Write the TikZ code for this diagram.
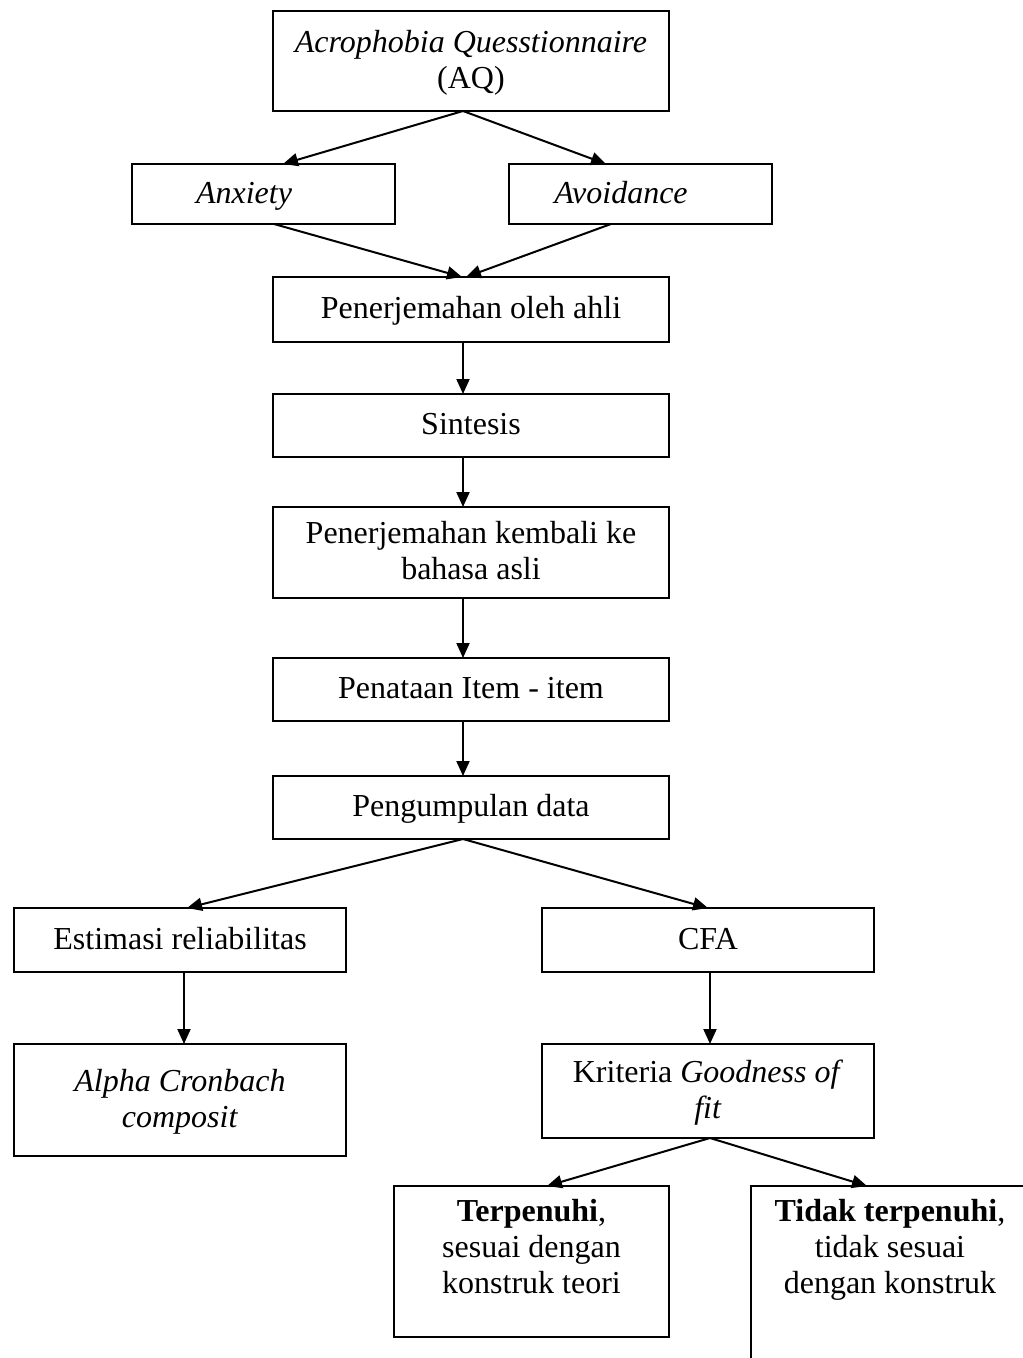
\documentclass[tikz,border=0pt]{standalone}
\usepackage{fontspec}
\setmainfont{Liberation Serif}
\usetikzlibrary{arrows.meta}
\newcommand{\bxt}[4][c]{\parbox[c][#3][#1]{#2}{\centering #4}}
\newcommand{\stt}{\rule[-9pt]{0pt}{36pt}}
\begin{document}
\begin{tikzpicture}[x=1pt,y=-1pt,font=\fontsize{32}{36}\selectfont,
  box/.style={draw,line width=1.3pt,inner sep=0pt,outer sep=0pt,anchor=north west},
  arr/.style={line width=2pt,-{Triangle[length=15pt,width=13pt]}}]
\useasboundingbox (0,0) rectangle (1023,1358);
\fill[white] (0,0) rectangle (1023,1358);
\node[box] (aq) at (273,11) {\bxt{396pt}{100pt}{\stt\textit{Acrophobia Quesstionnaire}\\\stt(AQ)}};
\node[box] (anx) at (132,164) {\bxt{263pt}{60pt}{\stt\textit{Anxiety}\hspace*{39pt}}};
\node[box] (avo) at (509,164) {\bxt{263pt}{60pt}{\stt\textit{Avoidance}\hspace*{39pt}}};
\node[box] (ahli) at (273,277) {\bxt{396pt}{65pt}{\stt Penerjemahan oleh ahli}};
\node[box] (sin) at (273,394) {\bxt{396pt}{63pt}{\stt Sintesis}};
\node[box] (kem) at (273,507) {\bxt{396pt}{91pt}{\stt Penerjemahan kembali ke\\\stt bahasa asli}};
\node[box] (pen) at (273,658) {\bxt{396pt}{63pt}{\stt Penataan Item - item}};
\node[box] (pkd) at (273,776) {\bxt{396pt}{63pt}{\stt Pengumpulan data}};
\node[box] (est) at (14,908) {\bxt{332pt}{64pt}{\stt Estimasi reliabilitas}};
\node[box] (cfa) at (542,908) {\bxt{332pt}{64pt}{\stt CFA}};
\node[box] (alp) at (14,1044) {\bxt{332pt}{112pt}{\stt\textit{Alpha Cronbach}\\\stt\textit{composit}}};
\node[box] (kri) at (542,1044) {\bxt{332pt}{94pt}{\stt Kriteria \textit{Goodness of}\\\stt\textit{fit}}};
\node[box] (ter) at (394,1186) {\bxt[t]{275pt}{151pt}{\rule{0pt}{35pt}\textbf{Terpenuhi},\\sesuai dengan\\konstruk teori}};
\begin{scope}
\clip (0,0) rectangle (1023,1358);
\node[box] (tid) at (751,1186) {\bxt[t]{278pt}{220pt}{\rule{0pt}{35pt}\textbf{Tidak terpenuhi},\\tidak sesuai\\dengan konstruk}};
\end{scope}
\draw[arr] ([xshift=-8pt]aq.south) -- ([xshift=19.5pt]anx.north);
\draw[arr] ([xshift=-8pt]aq.south) -- ([xshift=-34.5pt]avo.north);
\draw[arr] ([xshift=10.5pt]anx.south) -- ([xshift=-9pt]ahli.north);
\draw[arr] ([xshift=-29.5pt]avo.south) -- ([xshift=-5pt]ahli.north);
\draw[arr] ([xshift=-8pt]ahli.south) -- ([xshift=-8pt]sin.north);
\draw[arr] ([xshift=-8pt]sin.south) -- ([xshift=-8pt]kem.north);
\draw[arr] ([xshift=-8pt]kem.south) -- ([xshift=-8pt]pen.north);
\draw[arr] ([xshift=-8pt]pen.south) -- ([xshift=-8pt]pkd.north);
\draw[arr] ([xshift=-8pt]pkd.south) -- ([xshift=7pt]est.north);
\draw[arr] ([xshift=-8pt]pkd.south) -- (cfa.north);
\draw[arr] ([xshift=4pt]est.south) -- ([xshift=4pt]alp.north);
\draw[arr] ([xshift=2pt]cfa.south) -- ([xshift=2pt]kri.north);
\draw[arr] ([xshift=2pt]kri.south) -- ([xshift=15.5pt]ter.north);
\draw[arr] ([xshift=2pt]kri.south) -- ([xshift=-23pt]tid.north);
\end{tikzpicture}
\end{document}
